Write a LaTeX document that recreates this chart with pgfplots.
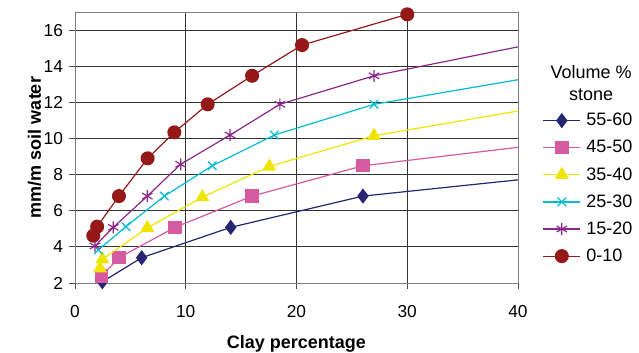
\documentclass[border=0pt]{standalone}
\usepackage{pgfplots}
\pgfplotsset{compat=1.18}
\usepackage{fontspec}
\setmainfont{Liberation Sans}
\definecolor{cnavy}{RGB}{38,38,115}
\definecolor{cpink}{RGB}{214,90,160}
\definecolor{cyel}{RGB}{238,230,0}
\definecolor{ccyan}{RGB}{0,188,210}
\definecolor{cpurp}{RGB}{140,40,140}
\definecolor{cred}{RGB}{150,25,25}
\begin{document}
\begin{tikzpicture}
\useasboundingbox (0,0) rectangle (479.25pt,264.75pt);
\begin{axis}[
  at={(56.25pt,52.5pt)}, anchor=south west,
  scale only axis, width=332.25pt, height=203.25pt,
  xmin=0, xmax=40, ymin=2, ymax=17,
  xtick={0,10,20,30,40}, ytick={2,4,...,16},
  tick align=outside, major tick length=4.5pt,
  tick style={black!70, line width=0.6pt},
  xtick pos=bottom, ytick pos=left,
  grid=major, grid style={black!80, line width=0.6pt},
  axis line style={black!50, line width=0.6pt},
  clip mode=individual,
  /pgf/number format/assume math mode=true,
  tick label style={font=\fontsize{13}{15}\selectfont},
  xticklabel style={yshift=-9pt},
  yticklabel style={xshift=-1pt},
  xlabel={\textbf{Clay percentage}}, ylabel={\textbf{mm/m soil water}},
  label style={font=\fontsize{13.5}{15}\selectfont},
  xlabel style={yshift=-6pt}, ylabel style={yshift=-5pt},
  legend style={at={(1.055,0.632)}, anchor=north west, draw=none, fill=none,
    font=\fontsize{13.5}{15}\selectfont, row sep=7.4pt, inner sep=0pt,
    nodes={inner sep=1pt}},
  legend cell align=left,
  legend image code/.code={
    \draw[mark=none] (0cm,0cm) -- (0.98cm,0cm);
    \draw plot coordinates {(0.49cm,0cm)};},
  every axis plot/.append style={line width=0.9pt},
]
\addplot[cnavy, mark=diamond*, mark size=5pt, mark indices={1,2,3,4}, mark options={fill=cnavy}]
  coordinates {(2.47,2.07)(6.02,3.40)(14.06,5.08)(26.0,6.81)(40,7.71)};
\addlegendentry{\hspace{3pt}55-60}
\addplot[cpink, mark=square*, mark size=4.6pt, mark indices={1,2,3,4,5}, mark options={fill=cpink}]
  coordinates {(2.41,2.39)(3.97,3.40)(9.03,5.08)(16.0,6.81)(26.0,8.49)(40,9.51)};
\addlegendentry{\hspace{3pt}45-50}
\addplot[cyel, mark=triangle*, mark size=5.2pt, mark indices={1,2,3,4,5,6}, mark options={fill=cyel}]
  coordinates {(2.26,2.81)(2.47,3.31)(6.53,5.05)(11.5,6.75)(17.55,8.45)(27.0,10.15)(40,11.52)};
\addlegendentry{\hspace{3pt}35-40}
\addplot[ccyan, mark=x, mark size=4.5pt, mark indices={1,2,3,4,5,6}]
  coordinates {(2.1,3.83)(4.6,5.12)(8.07,6.81)(12.4,8.49)(18.0,10.19)(27.0,11.89)(40,13.25)};
\addlegendentry{\hspace{3pt}25-30}
\addplot[cpurp, mark=asterisk, mark size=4.5pt, mark indices={1,2,3,4,5,6,7}]
  coordinates {(1.8,4.05)(3.46,5.08)(6.53,6.81)(9.54,8.57)(14.0,10.19)(18.5,11.89)(27.0,13.47)(40,15.07)};
\addlegendentry{\hspace{3pt}15-20}
\addplot[cred, mark=*, mark size=4.8pt, mark options={fill=cred}]
  coordinates {(1.65,4.62)(2.0,5.12)(3.97,6.81)(6.56,8.9)(8.97,10.34)(11.98,11.89)(15.99,13.47)(20.5,15.17)(30.0,16.87)};
\addlegendentry{\hspace{3pt}0-10}
\node[align=center, font=\fontsize{13.5}{16.5}\selectfont] at (rel axis cs:1.165,0.738) {Volume \%\\stone};
\end{axis}
\end{tikzpicture}
\end{document}
